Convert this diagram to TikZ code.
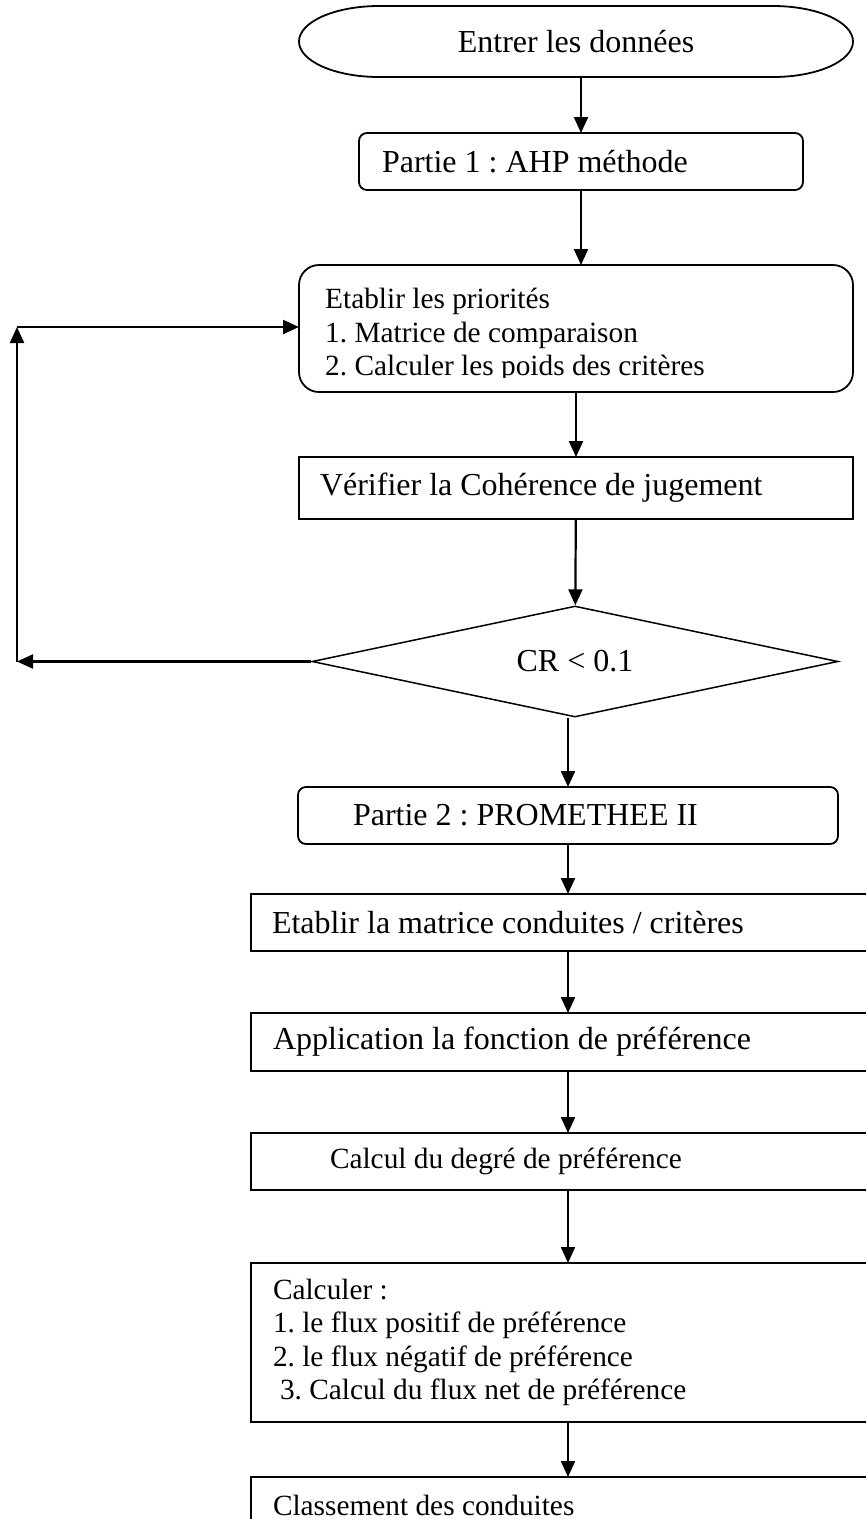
\documentclass[tikz,border=0pt]{standalone}
\usepackage{fontspec}
\setmainfont{Liberation Serif}
\usetikzlibrary{arrows.meta, shapes.geometric, calc}

% tailles de texte (1pt = 1 pixel du dessin)
\newcommand{\grand}{\fontsize{32}{36.8}\selectfont}
\newcommand{\petit}{\fontsize{29.33}{33.5}\selectfont}
\frenchspacing

\tikzset{
  boite/.style={draw, line width=1.8pt, outer sep=0pt, inner ysep=0pt, align=flush left, font=\grand},
  arrondi/.style={boite, rounded corners=8pt},
  fleche/.style={line width=2.2pt, -{Triangle[length=16pt,width=14pt]}},
}

\begin{document}
\begin{tikzpicture}[x=1pt, y=1pt]
    \useasboundingbox (0,0) rectangle (866,-1519);
    \clip (0,0) rectangle (866,-1519);

    % Partie 1 : AHP
    \node[outer sep=0pt, minimum width=554pt, minimum height=71pt, font=\grand] (start) at (576,-41.5) {Entrer les données};
    \draw[line width=1.8pt] ([xshift=80pt]start.north west) -- ([xshift=-80pt]start.north east)
        arc[start angle=90, end angle=-90, x radius=80pt, y radius=35.5pt]
        -- ([xshift=80pt]start.south west)
        arc[start angle=270, end angle=90, x radius=80pt, y radius=35.5pt] -- cycle;

    \node[arrondi, minimum width=444pt, minimum height=57pt, inner xsep=23pt, text width=398pt] (part1) at (581,-161.5) {Partie 1 : AHP méthode};

    \node[boite, rounded corners=20pt, minimum width=554pt, minimum height=127pt] (prio) at (576,-328.5) {};
    \begin{scope}
        \clip (290,-270) rectangle (860,-377);
        \node[anchor=north west, inner sep=0pt, align=flush left, text width=500pt, font=\petit] (priotxt) at (325,-288) {Etablir les priorités\\1. Matrice de comparaison\\2. Calculer les poids des critères};
    \end{scope}

    \node[boite, minimum width=554pt, minimum height=62pt, inner xsep=21pt, text width=512pt] (verif) at (576,-488) {Vérifier la Cohérence de jugement};

    \node[diamond, draw, line width=1.5pt, aspect=4.74, inner sep=0pt, minimum width=526pt, minimum height=111pt, font=\grand] (crit) at (575,-661.5) {CR < 0.1\hspace{30pt}};

    % Partie 2 : PROMETHEE
    \node[arrondi, minimum width=540pt, minimum height=57pt, inner xsep=55pt, text width=430pt] (part2) at (568,-815.5) {Partie 2 : PROMETHEE II};
    \node[boite, minimum width=634pt, minimum height=57pt, inner xsep=21pt, text width=592pt] (matrice) at (568,-922.5) {Etablir la matrice conduites / critères};
    \node[boite, minimum width=634pt, minimum height=58pt, inner xsep=22pt, text width=590pt] (appli) at (568,-1042) {Application la fonction de préférence};
    \node[boite, font=\petit, minimum width=634pt, minimum height=57pt, inner xsep=79pt, text width=476pt] (degre) at (568,-1161.5) {Calcul du degré de préférence};
    \node[boite, font=\petit, minimum width=634pt, minimum height=159pt, inner xsep=22pt, text width=590pt] (flux) at (568,-1342.5) {Calculer :\\1. le flux positif de préférence\\2. le flux négatif de préférence\\\hspace*{7pt}3. Calcul du flux net de préférence};
    \node[boite, font=\petit, minimum width=634pt, minimum height=57pt, inner xsep=22pt, text width=590pt] (classe) at (568,-1505.5) {Classement des conduites};

    % fleches
    \draw[fleche] (part1.north |- start.south) -- (part1.north);
    \draw[fleche] (part1.south) -- (part1.south |- prio.north);
    \draw[fleche] (prio) -- (verif);
    \draw[fleche] (verif) -- (crit);
    \draw[fleche] (crit.south -| part2) -- (part2.north);
    \foreach \a/\b in {part2/matrice, matrice/appli, appli/degre, degre/flux, flux/classe}
        \draw[fleche] (\a) -- (\b);

    % retour si CR trop grand
    \coordinate (g1) at (17,-661.5);
    \coordinate (g2) at (17,-327);
    \draw[fleche] (crit.west) -- (g1);
    \draw[fleche] (g1) -- (g2);
    \draw[fleche] (g2) -- (g2 -| prio.west);
\end{tikzpicture}
\end{document}
